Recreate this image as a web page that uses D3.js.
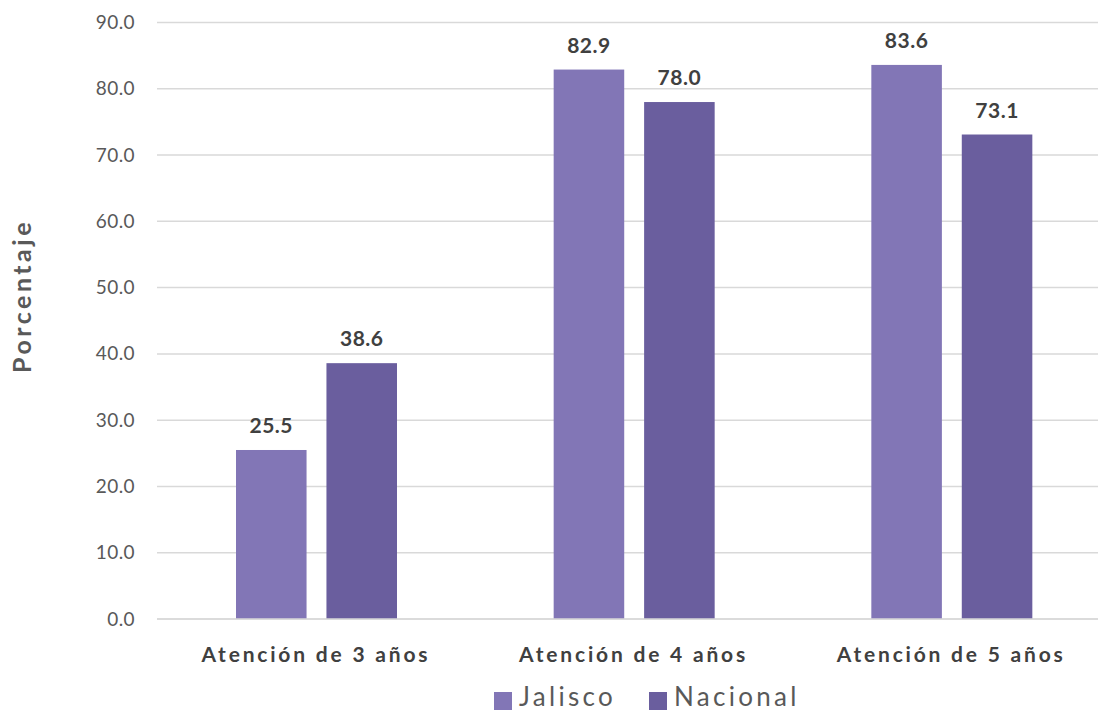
<!DOCTYPE html>
<html>
<head>
<meta charset="utf-8">
<script src="https://cdn.jsdelivr.net/npm/d3@7"></script>
<style>
  html, body { margin: 0; padding: 0; background: #fff; }
  svg { display: block; font-family: "Lato", "Open Sans", sans-serif; }
</style>
</head>
<body>
<svg id="chart" width="1098" height="713"></svg>
<script>
const categories = ["Atención de 3 años", "Atención de 4 años", "Atención de 5 años"];
const seriesNames = ["Jalisco", "Nacional"];
const jalisco = [25.5, 82.9, 83.6];
const nacional = [38.6, 78.0, 73.1];
const yTicks = [0, 10, 20, 30, 40, 50, 60, 70, 80, 90];
const colors = ["#8276b6", "#6a5e9e"];

const svg = d3.select("#chart");
const W = 1098, H = 713;
const x0 = d3.scaleBand().domain(categories).range([157, 1110]).paddingInner(0).paddingOuter(0);
const x1 = d3.scaleBand().domain(seriesNames).range([79, 79 + 161]).paddingInner(0.22).paddingOuter(0);
const y = d3.scaleLinear().domain([0, 90]).range([619, 22.5]);

// gridlines
svg.append("g").selectAll("line").data(yTicks).join("line")
  .attr("x1", 157).attr("x2", W)
  .attr("y1", d => y(d)).attr("y2", d => y(d))
  .attr("stroke", "#d9d9d9").attr("stroke-width", 1.5);

// y axis labels
const yAxis = d3.axisLeft(y).tickValues(yTicks).tickFormat(d3.format(".1f")).tickSize(0).tickPadding(0);
const gy = svg.append("g").attr("transform", "translate(135,0)").call(yAxis);
gy.select(".domain").remove();
gy.selectAll("text").attr("font-size", 19).attr("fill", "#595959").attr("font-family", "Lato, sans-serif")
  .attr("letter-spacing", 0.4);

// bars
const data = categories.map((c, i) => ({cat: c, vals: [jalisco[i], nacional[i]]}));
const groups = svg.append("g").selectAll("g").data(data).join("g")
  .attr("transform", d => `translate(${x0(d.cat)},0)`);
groups.selectAll("rect").data(d => d.vals.map((v, j) => ({name: seriesNames[j], v, j}))).join("rect")
  .attr("x", d => x1(d.name)).attr("width", x1.bandwidth())
  .attr("y", d => y(d.v)).attr("height", d => y(0) - y(d.v))
  .attr("fill", d => colors[d.j]);
groups.selectAll("text.val").data(d => d.vals.map((v, j) => ({name: seriesNames[j], v, j}))).join("text")
  .attr("class", "val")
  .attr("x", d => x1(d.name) + x1.bandwidth() / 2)
  .attr("y", d => y(d.v) - 17)
  .attr("text-anchor", "middle")
  .attr("font-size", 21).attr("font-weight", "bold").attr("fill", "#404040")
  .attr("letter-spacing", 0.5)
  .text(d => d3.format(".1f")(d.v));

// baseline
svg.append("line").attr("x1", 157).attr("x2", W).attr("y1", y(0)).attr("y2", y(0))
  .attr("stroke", "#d9d9d9").attr("stroke-width", 1.5);

// x axis labels
const xAxis = d3.axisBottom(x0).tickSize(0).tickPadding(0);
const gx = svg.append("g").attr("transform", "translate(0,662)").call(xAxis);
gx.select(".domain").remove();
gx.selectAll("text").attr("dy", 0).attr("font-size", 21).attr("font-weight", "bold")
  .attr("fill", "#404040").attr("font-family", "Lato, sans-serif").attr("letter-spacing", 2.8);

// y title
svg.append("text").attr("transform", "translate(31,296) rotate(-90)")
  .attr("text-anchor", "middle").attr("font-size", 25).attr("font-weight", "bold")
  .attr("fill", "#595959").attr("letter-spacing", 3.5).text("Porcentaje");

// legend
const legendX = [494, 649];
const lg = svg.append("g").selectAll("g").data(seriesNames).join("g")
  .attr("transform", (d, i) => `translate(${legendX[i]},0)`);
lg.append("rect").attr("x", 0).attr("y", 692).attr("width", 18).attr("height", 18)
  .attr("fill", (d, i) => colors[i]);
lg.append("text").attr("x", 25).attr("y", 706).attr("font-size", 26).attr("fill", "#595959")
  .attr("letter-spacing", 3.3).text(d => d);
</script>
</body>
</html>
